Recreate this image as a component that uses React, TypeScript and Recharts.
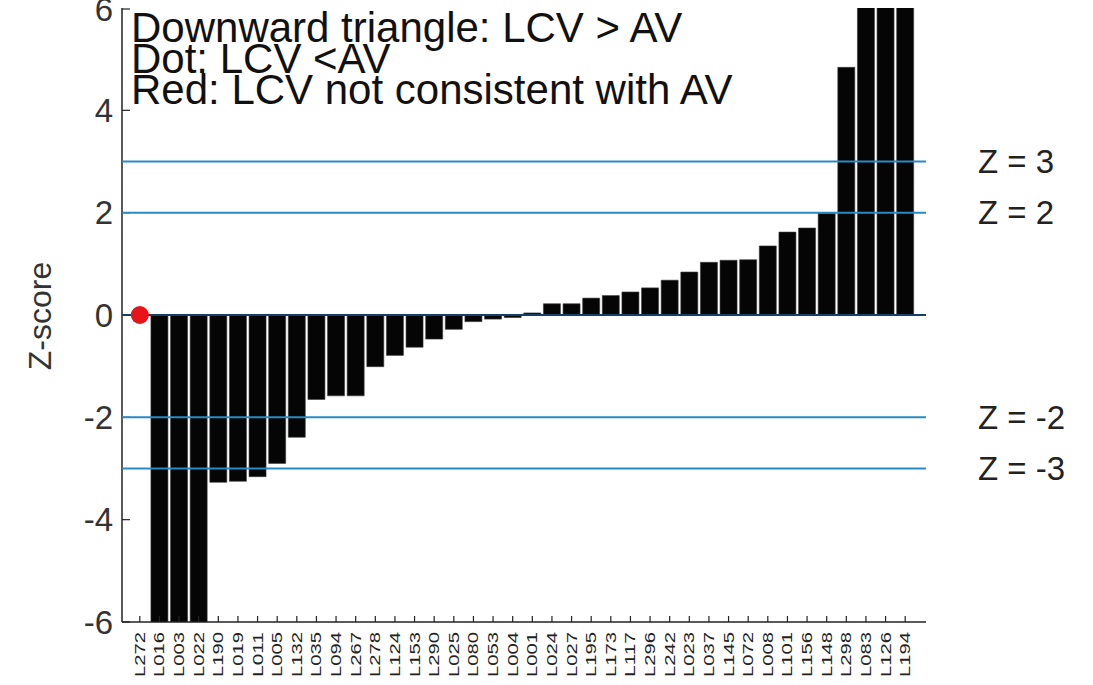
import React from "react";
import {
  Bar,
  ComposedChart,
  Customized,
  ReferenceLine,
  Scatter,
  XAxis,
  YAxis,
} from "recharts";

// labs, in plot order
const labs = [
  "L272", "L016", "L003", "L022", "L190", "L019", "L011", "L005", "L132", "L035",
  "L094", "L267", "L278", "L124", "L153", "L290", "L025", "L080", "L053", "L004",
  "L001", "L024", "L027", "L195", "L173", "L117", "L296", "L242", "L023", "L037",
  "L145", "L072", "L008", "L101", "L156", "L148", "L298", "L083", "L126", "L194",
];

// z-scores (the ones past +-6 are clipped anyway)
const zScores = [
  0, -8.2, -7.4, -6.6, -3.27, -3.25, -3.16, -2.9, -2.39, -1.65,
  -1.58, -1.58, -1.01, -0.79, -0.63, -0.47, -0.28, -0.13, -0.08, -0.05,
  0.04, 0.22, 0.22, 0.33, 0.38, 0.45, 0.53, 0.68, 0.84, 1.03,
  1.07, 1.08, 1.35, 1.62, 1.7, 1.99, 4.84, 6.8, 7.5, 8.9,
];

// red dot marker (only L272)
const dots = labs.map((l) => (l === "L272" ? 0 : null));

const yTicks = [-6, -4, -2, 0, 2, 4, 6];
const zLines = [3, 2, -2, -3];

const notes = [
  "Downward triangle: LCV > AV",
  "Dot: LCV <AV",
  "Red: LCV not consistent with AV",
];

const FONT = "'Liberation Sans', Arial, sans-serif";
const INK = "#222";
const BLUE = "#2a8ac4";
const W = 1093;
const H = 685;
const MARGIN = { top: 8, right: 167, bottom: 0, left: 52 };
const XPAD = { left: 8, right: 11 };

const data = labs.map((name, i) => ({ name, z: zScores[i], dot: dots[i] }));

function BottomTick({ x, y, payload }: any) {
  return (
    <g>
      <line x1={x} y1={y} x2={x} y2={y - 6} stroke={INK} strokeWidth={1.2} />
      <text
        x={x}
        y={y + 10}
        transform={`rotate(-90 ${x} ${y + 10})`}
        textAnchor="end"
        dominantBaseline="central"
        fontSize={14}
        fontFamily={FONT}
        fill="#222"
        textLength={45}
        lengthAdjust="spacingAndGlyphs"
      >
        {payload.value}
      </text>
    </g>
  );
}

function TopTick({ x, y }: any) {
  return <line x1={x} y1={y} x2={x} y2={y + 6} stroke={INK} strokeWidth={1.2} />;
}

function LeftTick({ x, y, payload }: any) {
  return (
    <g>
      <line x1={x} y1={y} x2={x + 8} y2={y} stroke={INK} strokeWidth={1.2} />
      <text
        x={x - 9}
        y={y}
        textAnchor="end"
        dominantBaseline="central"
        fontSize={33}
        fontFamily={FONT}
        fill="#333"
      >
        {payload.value}
      </text>
    </g>
  );
}

function RightTick({ x, y }: any) {
  return <line x1={x} y1={y} x2={x - 8} y2={y} stroke={INK} strokeWidth={1.2} />;
}

function Notes() {
  return (
    <g fontFamily={FONT} fill="#111">
      {notes.map((t, i) => (
        <text key={t} x={131} y={42 + i * 31} fontSize={42}>
          {t}
        </text>
      ))}
      <text
        x={40}
        y={316}
        transform="rotate(-90 40 316)"
        textAnchor="middle"
        dominantBaseline="central"
        fontSize={32}
        fill="#333"
      >
        Z-score
      </text>
    </g>
  );
}

export default function App() {
  return (
    <div style={{ position: "absolute", left: 0, top: 0, width: W, height: H, background: "#fff" }}>
      {/* base chart: frame, ticks, bars */}
      <div style={{ position: "absolute", left: 0, top: 0 }}>
        <ComposedChart width={W} height={H} data={data} margin={MARGIN} barCategoryGap={1.3}>
          <XAxis
            dataKey="name"
            interval={0}
            height={63}
            padding={XPAD}
            tickSize={0}
            tickMargin={0}
            tickLine={false}
            axisLine={{ stroke: INK, strokeWidth: 1.5 }}
            tick={<BottomTick />}
          />
          <XAxis
            xAxisId="top"
            orientation="top"
            dataKey="name"
            interval={0}
            height={0}
            padding={XPAD}
            tickSize={0}
            tickMargin={0}
            tickLine={false}
            axisLine={{ stroke: INK, strokeWidth: 1.5 }}
            tick={<TopTick />}
          />
          <YAxis
            type="number"
            domain={[-6, 6]}
            ticks={yTicks}
            allowDataOverflow
            width={70}
            tickSize={0}
            tickMargin={0}
            tickLine={false}
            axisLine={{ stroke: INK, strokeWidth: 1.5 }}
            tick={<LeftTick />}
          />
          <YAxis
            yAxisId="right"
            orientation="right"
            type="number"
            domain={[-6, 6]}
            ticks={yTicks}
            allowDataOverflow
            width={0}
            tickSize={0}
            tickMargin={0}
            tickLine={false}
            axisLine={{ stroke: INK, strokeWidth: 1.5 }}
            tick={<RightTick />}
          />
          <Bar dataKey="z" fill="#050505" stroke="#3a3a3a" strokeWidth={0.6} isAnimationActive={false} />
          <Customized component={Notes} />
        </ComposedChart>
      </div>
      {/* overlay: Z reference lines and the dot, drawn over the bars */}
      <div style={{ position: "absolute", left: 0, top: 0 }}>
        <ComposedChart width={W} height={H} data={data} margin={MARGIN} barCategoryGap={1.3}>
          <XAxis
            dataKey="name"
            interval={0}
            height={63}
            padding={XPAD}
            tick={false}
            tickLine={false}
            axisLine={false}
          />
          <YAxis
            type="number"
            domain={[-6, 6]}
            ticks={yTicks}
            allowDataOverflow
            width={70}
            tick={false}
            tickLine={false}
            axisLine={false}
          />
          {/* invisible bar keeps the same band scale as the base chart */}
          <Bar dataKey="z" fill="none" stroke="none" isAnimationActive={false} />
          <ReferenceLine y={0} stroke="#163f66" strokeWidth={2} />
          {zLines.map((z) => (
            <ReferenceLine
              key={z}
              y={z}
              stroke={BLUE}
              strokeWidth={2}
              label={{
                value: `Z = ${z}`,
                position: "right",
                offset: 52,
                fontSize: 33,
                fontFamily: FONT,
                fill: "#222",
              }}
            />
          ))}
          <Scatter
            dataKey="dot"
            fill="#e8141c"
            isAnimationActive={false}
            shape={(p: any) =>
              p.cy == null ? <g /> : <circle cx={p.cx} cy={p.cy} r={9} fill="#e8141c" />
            }
          />
        </ComposedChart>
      </div>
    </div>
  );
}
